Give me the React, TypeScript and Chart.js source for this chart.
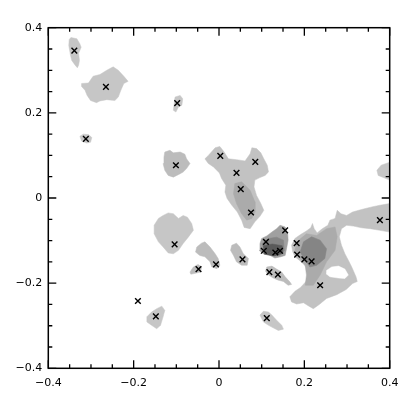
import { useEffect, useRef } from "react";
import { Chart, registerables } from "chart.js";

Chart.register(...registerables);

// ---------- axis ----------
const axisMin = -0.4;
const axisMax = 0.4;
const tickValues = [-0.4, -0.2, 0, 0.2, 0.4];

// ---------- source positions (crosses) ----------
const sourceX = [
  -0.339, -0.265, -0.312, -0.098, -0.101, 0.003, 0.085, 0.041, 0.051, 0.075,
  0.155, 0.11, 0.105, 0.132, 0.143, 0.182, 0.183, 0.2, 0.217, 0.237,
  0.377, -0.104, -0.048, -0.007, 0.055, 0.118, 0.138, 0.112, -0.19, -0.148,
];
const sourceY = [
  0.346, 0.261, 0.139, 0.223, 0.077, 0.099, 0.085, 0.059, 0.021, -0.034,
  -0.076, -0.103, -0.124, -0.128, -0.124, -0.106, -0.133, -0.144, -0.149, -0.205,
  -0.052, -0.109, -0.167, -0.156, -0.144, -0.174, -0.18, -0.282, -0.242, -0.278,
];

// ---------- emission contours (x, y in data units) ----------
const blobA = [
  [-0.347, 0.377], [-0.333, 0.374], [-0.326, 0.362], [-0.323, 0.354], [-0.329, 0.34],
  [-0.327, 0.323], [-0.329, 0.312], [-0.332, 0.306], [-0.337, 0.312], [-0.345, 0.323],
  [-0.348, 0.335], [-0.352, 0.358], [-0.351, 0.372],
];
const blobB = [
  [-0.322, 0.269], [-0.306, 0.27], [-0.295, 0.286], [-0.279, 0.29], [-0.263, 0.3],
  [-0.248, 0.308], [-0.236, 0.3], [-0.223, 0.286], [-0.213, 0.274], [-0.223, 0.269],
  [-0.23, 0.253], [-0.236, 0.237], [-0.244, 0.229], [-0.263, 0.231], [-0.279, 0.228],
  [-0.287, 0.224], [-0.301, 0.229], [-0.309, 0.241], [-0.314, 0.253], [-0.322, 0.262],
];
const blobC = [
  [-0.326, 0.145], [-0.318, 0.15], [-0.306, 0.149], [-0.298, 0.142], [-0.301, 0.131],
  [-0.31, 0.129], [-0.322, 0.134],
];
const blobD = [
  [-0.103, 0.237], [-0.091, 0.241], [-0.085, 0.233], [-0.087, 0.218], [-0.095, 0.214],
  [-0.101, 0.202], [-0.107, 0.206], [-0.105, 0.222],
];
const blobE = [
  [-0.127, 0.108], [-0.115, 0.112], [-0.107, 0.106], [-0.091, 0.108], [-0.08, 0.103],
  [-0.076, 0.092], [-0.068, 0.081], [-0.076, 0.069], [-0.084, 0.061], [-0.091, 0.057],
  [-0.107, 0.049], [-0.119, 0.053], [-0.127, 0.065], [-0.131, 0.081], [-0.129, 0.096],
];
const blobF = [
  [-0.009, 0.118], [0.002, 0.121], [0.012, 0.108], [0.022, 0.092], [0.041, 0.09],
  [0.061, 0.087], [0.073, 0.104], [0.077, 0.118], [0.088, 0.116], [0.098, 0.106],
  [0.105, 0.092], [0.113, 0.077], [0.116, 0.061], [0.108, 0.053], [0.096, 0.048],
  [0.084, 0.042], [0.082, 0.026], [0.088, 0.006], [0.098, -0.013], [0.105, -0.029],
  [0.096, -0.043], [0.084, -0.056], [0.073, -0.072], [0.059, -0.069], [0.053, -0.052],
  [0.043, -0.033], [0.03, -0.017], [0.019, -0.001], [0.014, 0.014], [0.016, 0.03],
  [0.006, 0.046], [0.001, 0.059], [-0.013, 0.073], [-0.025, 0.081], [-0.033, 0.092],
  [-0.025, 0.1],
];
const coreF = [
  [0.037, 0.034], [0.053, 0.038], [0.073, 0.018], [0.084, -0.009], [0.084, -0.033],
  [0.077, -0.048], [0.065, -0.052], [0.053, -0.037], [0.041, -0.013], [0.034, 0.01],
];
const blobH = [
  [-0.152, -0.064], [-0.142, -0.048], [-0.131, -0.041], [-0.119, -0.035], [-0.107, -0.037],
  [-0.095, -0.048], [-0.084, -0.041], [-0.074, -0.045], [-0.064, -0.06], [-0.06, -0.076],
  [-0.072, -0.092], [-0.084, -0.107], [-0.095, -0.123], [-0.107, -0.131], [-0.119, -0.129],
  [-0.131, -0.115], [-0.142, -0.103], [-0.152, -0.084],
];
const blobI1 = [
  [-0.052, -0.115], [-0.041, -0.106], [-0.033, -0.103], [-0.021, -0.115], [-0.009, -0.131],
  [-0.002, -0.142], [0.002, -0.158], [-0.005, -0.166], [-0.017, -0.162], [-0.021, -0.15],
  [-0.033, -0.138], [-0.045, -0.135], [-0.055, -0.127],
];
const blobI2 = [
  [-0.068, -0.174], [-0.06, -0.162], [-0.049, -0.156], [-0.041, -0.162], [-0.043, -0.174],
  [-0.056, -0.177], [-0.066, -0.179],
];
const blobJ = [
  [0.03, -0.111], [0.041, -0.106], [0.049, -0.115], [0.057, -0.131], [0.069, -0.142],
  [0.066, -0.158], [0.053, -0.158], [0.041, -0.15], [0.034, -0.135], [0.027, -0.123],
];
const blobK = [
  [-0.169, -0.279], [-0.158, -0.268], [-0.146, -0.26], [-0.134, -0.254], [-0.127, -0.264],
  [-0.131, -0.279], [-0.137, -0.299], [-0.146, -0.307], [-0.158, -0.299], [-0.169, -0.291],
];
const blobL = [
  [0.096, -0.275], [0.104, -0.266], [0.116, -0.268], [0.124, -0.275], [0.135, -0.287],
  [0.147, -0.299], [0.151, -0.308], [0.139, -0.311], [0.127, -0.305], [0.116, -0.299],
  [0.104, -0.291],
];
const blobG = [
  [0.096, -0.107], [0.1, -0.095], [0.112, -0.089], [0.124, -0.08], [0.135, -0.072],
  [0.143, -0.064], [0.155, -0.068], [0.161, -0.084], [0.162, -0.099], [0.159, -0.115],
  [0.155, -0.135], [0.145, -0.138], [0.131, -0.141], [0.12, -0.135], [0.104, -0.131],
  [0.094, -0.123],
];
const coreG = [
  [0.101, -0.107], [0.116, -0.095], [0.135, -0.092], [0.151, -0.099], [0.153, -0.123],
  [0.143, -0.135], [0.124, -0.135], [0.106, -0.128],
];
const peakG = [
  [0.104, -0.112], [0.125, -0.108], [0.148, -0.112], [0.15, -0.13], [0.13, -0.136],
  [0.106, -0.132],
];
const blobM = [
  [0.112, -0.162], [0.124, -0.16], [0.135, -0.167], [0.147, -0.174], [0.155, -0.185],
  [0.166, -0.197], [0.17, -0.203], [0.162, -0.205], [0.151, -0.196], [0.139, -0.193],
  [0.127, -0.188], [0.116, -0.181], [0.109, -0.172],
];
const blobN = [
  [0.17, -0.111], [0.178, -0.095], [0.191, -0.086], [0.204, -0.078], [0.215, -0.07],
  [0.219, -0.06], [0.223, -0.072], [0.23, -0.082], [0.241, -0.073], [0.255, -0.064],
  [0.26, -0.052], [0.272, -0.048], [0.277, -0.029], [0.286, -0.037], [0.299, -0.041],
  [0.313, -0.033], [0.334, -0.027], [0.358, -0.021], [0.377, -0.017], [0.4, -0.013],
  [0.4, -0.08], [0.377, -0.076], [0.354, -0.072], [0.334, -0.07], [0.315, -0.066],
  [0.299, -0.064], [0.287, -0.072], [0.282, -0.091], [0.287, -0.111], [0.295, -0.131],
  [0.303, -0.146], [0.311, -0.162], [0.321, -0.185], [0.324, -0.196], [0.313, -0.201],
  [0.298, -0.215], [0.276, -0.227], [0.252, -0.236], [0.235, -0.25], [0.221, -0.26],
  [0.209, -0.253], [0.198, -0.246], [0.182, -0.249], [0.17, -0.244], [0.166, -0.232],
  [0.178, -0.219], [0.191, -0.21], [0.204, -0.196], [0.213, -0.181], [0.207, -0.167],
  [0.199, -0.156], [0.188, -0.146], [0.178, -0.138], [0.173, -0.127],
];
const holeN = [
  [0.252, -0.17], [0.264, -0.162], [0.28, -0.16], [0.295, -0.167], [0.303, -0.181],
  [0.295, -0.189], [0.28, -0.188], [0.26, -0.185], [0.251, -0.178],
];
const midN = [
  [0.182, -0.103], [0.205, -0.084], [0.229, -0.088], [0.252, -0.072], [0.272, -0.068],
  [0.277, -0.091], [0.272, -0.123], [0.252, -0.15], [0.237, -0.181], [0.221, -0.205],
  [0.202, -0.205], [0.205, -0.181], [0.202, -0.158], [0.186, -0.138], [0.178, -0.123],
];
const coreN = [
  [0.198, -0.103], [0.217, -0.091], [0.237, -0.099], [0.252, -0.119], [0.248, -0.142],
  [0.229, -0.158], [0.213, -0.162], [0.202, -0.146], [0.19, -0.127],
];
const blobP = [
  [0.4, 0.084], [0.38, 0.077], [0.37, 0.065], [0.373, 0.053], [0.4, 0.042],
];

// ---------- styles (drawn bottom to top) ----------
const layers: { shapes: number[][][]; color: string }[] = [
  { shapes: [blobA, blobB, blobC, blobD, blobH, blobK, blobL, blobP], color: "#c6c6c6" },
  { shapes: [blobE, blobI1, blobI2, blobJ, blobM], color: "#bcbcbc" },
  { shapes: [blobF, blobN], color: "#c2c2c2" },
  { shapes: [holeN], color: "#ffffff" },
  { shapes: [midN, coreF], color: "#ababab" },
  { shapes: [blobG], color: "#a0a0a0" },
  { shapes: [coreN, coreG], color: "#858585" },
  { shapes: [peakG], color: "#5a5a5a" },
];

const fmt = (v: number) => {
  if (Math.abs(v) < 1e-9) return "0";
  return (v < 0 ? "\u2212" : "") + Math.abs(v).toFixed(1);
};

const framePlugin = {
  id: "frameTicks",
  afterDraw(chart: any) {
    const { ctx, chartArea, scales } = chart;
    const { left, right, top, bottom } = chartArea;
    const xs = scales.x;
    const ys = scales.y;
    ctx.save();
    ctx.strokeStyle = "#000";
    ctx.lineWidth = 1.5;
    ctx.strokeRect(left, top, right - left, bottom - top);
    ctx.lineWidth = 1.3;
    ctx.beginPath();
    for (let i = -8; i <= 8; i++) {
      const v = i * 0.05;
      const len = i % 4 === 0 ? 8 : 4;
      const px = xs.getPixelForValue(v);
      const py = ys.getPixelForValue(v);
      ctx.moveTo(px, bottom);
      ctx.lineTo(px, bottom - len);
      ctx.moveTo(px, top);
      ctx.lineTo(px, top + len);
      ctx.moveTo(left, py);
      ctx.lineTo(left + len, py);
      ctx.moveTo(right, py);
      ctx.lineTo(right - len, py);
    }
    ctx.stroke();
    ctx.restore();
  },
};

export default function App() {
  const ref = useRef<HTMLCanvasElement | null>(null);

  useEffect(() => {
    if (!ref.current) return;

    const polyDatasets: any[] = [];
    layers.forEach((layer) => {
      layer.shapes.forEach((shape) => {
        const pts = shape.map(([x, y]) => ({ x, y }));
        pts.push({ x: shape[0][0], y: shape[0][1] });
        polyDatasets.push({
          data: pts,
          showLine: true,
          fill: "shape",
          backgroundColor: layer.color,
          borderColor: layer.color,
          borderWidth: 0.5,
          pointRadius: 0,
          tension: 0,
        });
      });
    });

    const markerDataset = {
      data: sourceX.map((x, i) => ({ x, y: sourceY[i] })),
      showLine: false,
      pointStyle: "crossRot",
      pointRadius: 4,
      borderColor: "#000",
      borderWidth: 1.4,
      backgroundColor: "#000",
    };

    // first dataset is drawn last (on top)
    const datasets = [markerDataset, ...polyDatasets.reverse()];

    const axisCommon = (pos: string) => ({
      type: "linear",
      position: pos,
      min: axisMin,
      max: axisMax,
      grid: { display: false, drawTicks: false },
      border: { display: false },
      afterBuildTicks: (scale: any) => {
        scale.ticks = tickValues.map((v) => ({ value: v }));
      },
      ticks: {
        color: "#000",
        font: { family: "DejaVu Sans", size: 11 },
        callback: (v: any) => fmt(Number(v)),
        autoSkip: false,
        maxRotation: 0,
      },
    });

    const xAxis: any = axisCommon("bottom");
    xAxis.ticks.padding = 8;
    xAxis.afterFit = (scale: any) => {
      scale.height = 49.7;
    };
    const yAxis: any = axisCommon("left");
    yAxis.ticks.padding = 6;
    yAxis.afterFit = (scale: any) => {
      scale.width = 48.3;
    };

    const chart = new Chart(ref.current, {
      type: "scatter",
      data: { datasets },
      options: {
        animation: false,
        responsive: false,
        events: [],
        layout: { padding: { left: 0, top: 27.7, right: 25.3, bottom: 0 } },
        plugins: {
          legend: { display: false },
          tooltip: { enabled: false },
        },
        scales: { x: xAxis, y: yAxis },
      },
      plugins: [framePlugin],
    } as any);

    return () => chart.destroy();
  }, []);

  return (
    <div style={{ position: "fixed", left: 0, top: 0, width: 415, height: 418, background: "#fff" }}>
      <canvas ref={ref} width={415} height={418} style={{ width: 415, height: 418 }} />
    </div>
  );
}
